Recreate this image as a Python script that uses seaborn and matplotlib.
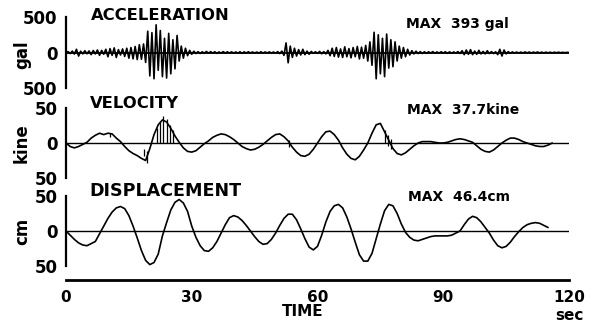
import numpy as np
import pandas as pd
import matplotlib
matplotlib.use("Agg")
import matplotlib.pyplot as plt
import seaborn as sns

# ---------------- data ----------------
ACC_DT = 0.5  # s, sampling step of the acceleration list
acc_gal = [
    0, 12, -15, 20, -22, 45, -50, 18, -20, 25, -18, 22, -30, 28, -20, 35, -40, 30, -25, 45,
    -60, 55, -40, 65, -70, 40, -35, 50, -55, 60, -80, 70, -90, 85, -100, 110, -95, 120, -140, 300,
    -330, 280, -370, 390, -250, 310, -340, 200, -360, 270, -300, 180, -230, 240, -120, 90, -80, 60, -45, 30,
    -25, 18, -15, 12, -14, 10, -12, 15, -10, 12, -8, 10, -12, 8, -10, 12, -9, 10, -8, 9,
    -10, 8, -9, 10, -12, 9, -8, 10, -7, 8, -9, 7, -8, 10, -9, 8, -7, 9, -8, 7,
    -10, 12, -15, 20, -40, 135, -145, 90, -70, 60, -50, 40, -35, 45, -30, 20, -25, 15, -12, 10,
    -12, 15, -18, 12, -20, 30, -45, 60, -55, 70, -65, 50, -70, 80, -60, 55, -75, 70, -60, 85,
    -90, 75, -80, 100, -120, 150, -180, 285, -370, 250, -300, 200, -340, 260, -220, 180, -200, 150, -120, 90,
    -80, 70, -60, 45, -35, 25, -20, 18, -15, 12, -14, 10, -12, 10, -9, 12, -10, 8, -9, 10,
    -8, 10, -12, 9, -10, 8, -9, 12, -14, 25, -30, 35, -25, 40, -30, 20, -25, 30, -20, 15,
    -20, 25, -15, 12, -15, 10, -30, 45, -50, 35, -20, 12, -10, 8, -9, 7, -8, 6, -7, 8,
    -6, 7, -8, 6, -5, 7, -6, 5, -6, 5, -5, 4, -5, 4, -4, 5, -4, 3, -3, 2,
    0,
]

VEL_DT = 1.0  # s
vel_kine = [
    0, -5, -7, -5, -2, 1, 7, 11, 14, 12, 14, 13, 7, 2, -5, -11, -15, -18, -22, -25,
    -8, 12, 26, 33, 30, 21, 10, 1, -7, -12, -13, -11, -6, -1, 3, 8, 11, 13, 12, 9,
    5, 0, -5, -8, -10, -9, -6, -2, 3, 8, 12, 13, 9, 3, -6, -13, -18, -19, -16, -9,
    0, 9, 16, 17, 12, 4, -7, -16, -22, -24, -19, -10, 0, 14, 26, 28, 16, 4, -8, -15,
    -17, -14, -9, -4, 0, 2, 2, 2, 1, 0, 0, 1, 3, 5, 6, 5, 3, 1, -4, -9,
    -12, -13, -10, -5, 0, 4, 7, 7, 5, 2, 0, -2, -4, -5, -5, -3, 0,
]
# short vertical strokes seen on the velocity trace (time, from, to)
vel_spike_t = [10.5, 18.6, 19.4, 21.6, 22.4, 23.2, 24.0, 24.8, 25.6, 53.2, 76.0, 76.8, 77.6]
vel_spike_lo = [8, -18, -28, 0, 0, 0, 0, 0, 0, -6, 0, -4, -8]
vel_spike_hi = [15, -8, -12, 22, 30, 38, 34, 26, 18, 4, 18, 12, 6]

DIS_DT = 1.0  # s
dis_cm = [
    0, -6, -12, -17, -20, -21, -18, -15, -4, 7, 18, 27, 33, 35, 32, 22, 7, -10, -28, -42,
    -48, -45, -33, -7, 12, 30, 41, 45, 40, 28, 7, -9, -21, -28, -29, -24, -15, -3, 9, 19,
    22, 20, 15, 8, 0, -8, -15, -19, -18, -12, -3, 8, 18, 24, 24, 16, 3, -11, -23, -27,
    -22, -6, 13, 28, 36, 38, 33, 20, 3, -16, -34, -43, -43, -32, -11, 10, 29, 38, 36, 25,
    10, -2, -9, -13, -14, -12, -10, -8, -7, -7, -7, -7, -6, -3, 0, 9, 17, 21, 19, 13,
    5, -3, -13, -21, -24, -22, -16, -8, -1, 5, 9, 11, 12, 11, 8, 5,
]

panel_titles = ["ACCELERATION", "VELOCITY", "DISPLACEMENT"]
panel_max = ["MAX  393 gal", "MAX  37.7kine", "MAX  46.4cm"]
panel_units = ["gal", "kine", "cm"]
acc_ticks = [-500, 0, 500]
vel_ticks = [-50, 0, 50]
dis_ticks = [-50, 0, 50]
acc_ticklabels = ["500", "0", "500"]
vel_ticklabels = ["50", "0", "50"]
dis_ticklabels = ["50", "0", "50"]
time_major = [0, 30, 60, 90, 120]
time_minor = [10, 20, 40, 50, 70, 80, 100, 110]
time_labels = ["0", "30", "60", "90", "120"]

# ---------------- figure ----------------
sns.set_style("white")
plt.rcParams["font.family"] = ["DejaVu Sans"]
plt.rcParams["font.weight"] = "bold"
plt.rcParams["text.color"] = "black"
plt.rcParams["axes.labelcolor"] = "black"
plt.rcParams["xtick.color"] = "black"
plt.rcParams["ytick.color"] = "black"

W, H = 602, 324
fig = plt.figure(figsize=(W / 100, H / 100), dpi=100)
fig.patch.set_facecolor("white")

X0, X1 = 66, 569


def px_axes(top, bottom):
    return fig.add_axes([X0 / W, 1 - bottom / H, (X1 - X0) / W, (bottom - top) / H])


def series(dt, vals):
    t = np.arange(len(vals)) * dt
    return pd.DataFrame({"t": t, "v": vals})


specs = [
    (17, 88, series(ACC_DT, acc_gal), acc_ticks, acc_ticklabels, 500),
    (108, 178, series(VEL_DT, vel_kine), vel_ticks, vel_ticklabels, 50),
    (196, 266, series(DIS_DT, dis_cm), dis_ticks, dis_ticklabels, 50),
]
title_pos = [(91, 15), (90, 103), (89, 191)]
title_fs = [11.8, 11.8, 12.6]
max_pos = [(406, 24), (407, 110), (408, 197)]
unit_y = [55, 143, 231]
axes = []
for i, (top, bot, df, ticks, tlabels, lim) in enumerate(specs):
    ax = px_axes(top, bot)
    ax.set_facecolor("none")
    ax.axhline(0, color="black", lw=1.0 if i > 0 else 1.3, zorder=1)
    sns.lineplot(data=df, x="t", y="v", ax=ax, color="black",
                 lw=1.2, estimator=None, zorder=2)
    if i == 1:
        ax.vlines(vel_spike_t, vel_spike_lo, vel_spike_hi, color="black", lw=0.9)
    ax.set_xlim(0, 120)
    ax.set_ylim(-lim, lim)
    for s in ["top", "right", "bottom"]:
        ax.spines[s].set_visible(False)
    ax.spines["left"].set_linewidth(1.6)
    ax.spines["left"].set_color("black")
    ax.set_xticks([])
    ax.set_yticks(ticks)
    ax.set_yticklabels(tlabels, fontsize=12, fontweight="bold", color="black")
    ax.tick_params(axis="y", direction="out", length=5, width=1.4, pad=1, colors="black")
    ax.set_xlabel("")
    ax.set_ylabel("")
    axes.append(ax)

for i in range(3):
    fig.text(title_pos[i][0] / W, 1 - title_pos[i][1] / H, panel_titles[i], color="black",
             fontsize=title_fs[i], fontweight="bold", ha="left", va="center")
    fig.text(max_pos[i][0] / W, 1 - max_pos[i][1] / H, panel_max[i], color="black",
             fontsize=10, fontweight="bold", ha="left", va="center")
    fig.text(22 / W, 1 - unit_y[i] / H, panel_units[i], rotation=90, color="black",
             fontsize=12, fontweight="bold", ha="center", va="center")

# time axis
axt = fig.add_axes([X0 / W, 1 - 280 / H, (X1 - X0) / W, 0.0001])
axt.set_facecolor("none")
for s in ["top", "right", "left"]:
    axt.spines[s].set_visible(False)
axt.spines["bottom"].set_linewidth(2.0)
axt.spines["bottom"].set_color("black")
axt.set_xlim(0, 120)
axt.set_yticks([])
axt.set_xticks(time_major)
axt.set_xticklabels(time_labels, fontsize=11, fontweight="bold", color="black")
axt.set_xticks(time_minor, minor=True)
axt.tick_params(axis="x", which="both", direction="out", length=6, width=1.4, pad=1, colors="black")
fig.text(303 / W, 1 - 312 / H, "TIME", fontsize=11, fontweight="bold", color="black",
         ha="center", va="center")
fig.text(569 / W, 1 - 316 / H, "sec", fontsize=11, fontweight="bold", color="black",
         ha="center", va="center")

fig.savefig("out.png", dpi=100, facecolor="white")
